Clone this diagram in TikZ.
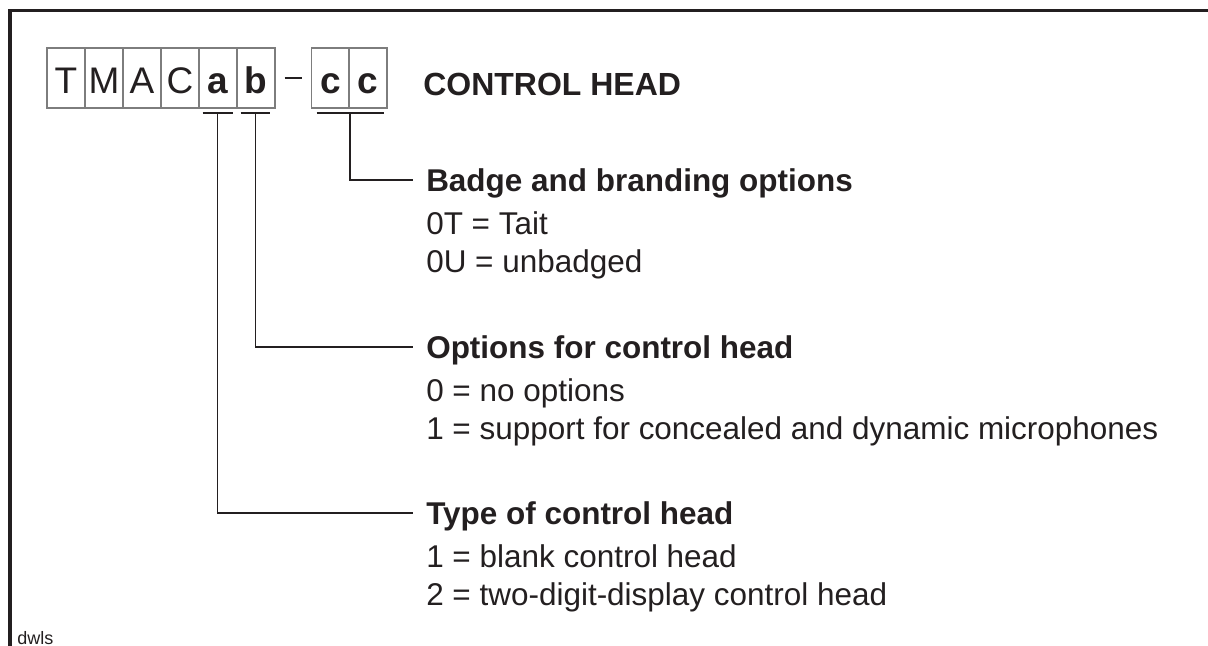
\documentclass[tikz,border=0pt]{standalone}
\usepackage{fontspec}
\setmainfont{Liberation Sans}
\usetikzlibrary{calc}

\begin{document}
\begin{tikzpicture}[x=0.75pt,y=-0.75pt,
  cell/.style={draw=cellgray,line width=0.8pt,minimum width=28.5pt,minimum height=45pt,inner sep=0pt,text height=22.5pt,text depth=0pt,font=\fontsize{27.75}{30}\selectfont,text=inkblack},
  keycell/.style={cell,font=\fontsize{27.75}{30}\selectfont\bfseries},
  heading/.style={anchor=base west,inner sep=0pt,text height=16.5pt,text depth=0pt,font=\fontsize{23.6}{28}\selectfont\bfseries,text=inkblack},
  item/.style={anchor=base west,inner sep=0pt,font=\fontsize{23.6}{28}\selectfont,text=inkblack},
  uline/.style={inkblack,line width=1.8pt},
  lead/.style={inkblack,line width=1.1pt,shorten >=9.75pt}]
% Define colors
\definecolor{inkblack}{RGB}{35,31,32}
\definecolor{cellgray}{RGB}{125,125,125}

\useasboundingbox (0,0) rectangle (1208,646);

% Frame
\draw[inkblack,line width=2.4pt] (10,650) -- (10,10.5) -- (1212,10.5);

% Code boxes
\node[cell] (cT) at (66,78) {T};
\node[cell] (cM) at (104,78) {M};
\node[cell] (cA) at (142,78) {A};
\node[cell] (cC) at (180,78) {C};
\node[keycell] (ca) at (218,78) {a};
\node[keycell] (cb) at (256,78) {b};
\node[keycell] (cc1) at (330.5,78) {c};
\node[keycell] (cc2) at (368,78) {c};
\draw[inkblack,line width=1pt] ($(cb.east)+(9,0)$) -- ($(cc1.west)+(-9,0)$);

\node[anchor=base west,inner sep=0pt,font=\fontsize{24}{28}\selectfont\bfseries,text=inkblack] (title) at (423,95) {CONTROL HEAD};

% Underlines
\coordinate (ua) at ($(ca.south)+(-0.5,4.7)$);
\coordinate (ub) at ($(cb.south)+(-0.3,4.7)$);
\coordinate (uc) at ($(cc1.south east)+(0,4.7)$);
\draw[uline] ($(ua)+(-15,0)$) -- ($(ua)+(15,0)$);
\draw[uline] ($(ub)+(-15,0)$) -- ($(ub)+(14,0)$);
\draw[uline] ($(uc)+(-33.5,0)$) -- ($(uc)+(33.5,0)$);

% Badge group
\node[heading] (badgehead) at (426,191) {Badge and branding options};
\node[item] (tait) at (426,234) {0T = Tait};
\node[item] (unbadged) at (426,272) {0U = unbadged};

% Options group
\node[heading] (opthead) at (426,358) {Options for control head};
\node[item] (noopt) at (426,401) {0 = no options};
\node[item] (micopt) at (426,439) {1 = support for concealed and dynamic microphones};

% Type group
\node[heading] (typehead) at (426,524) {Type of control head};
\node[item] (blank) at (426,567) {1 = blank control head};
\node[item] (twodigit) at (426,605) {2 = two-digit-display control head};

% Leaders
\draw[lead] (uc) |- (badgehead.west);
\draw[lead] (ub) |- (opthead.west);
\draw[lead] (ua) |- (typehead.west);

\node[anchor=base west,inner sep=0pt,font=\fontsize{13.5}{15}\selectfont,text=inkblack] (tag) at (17,644.5) {dwls};
\end{tikzpicture}
\end{document}
